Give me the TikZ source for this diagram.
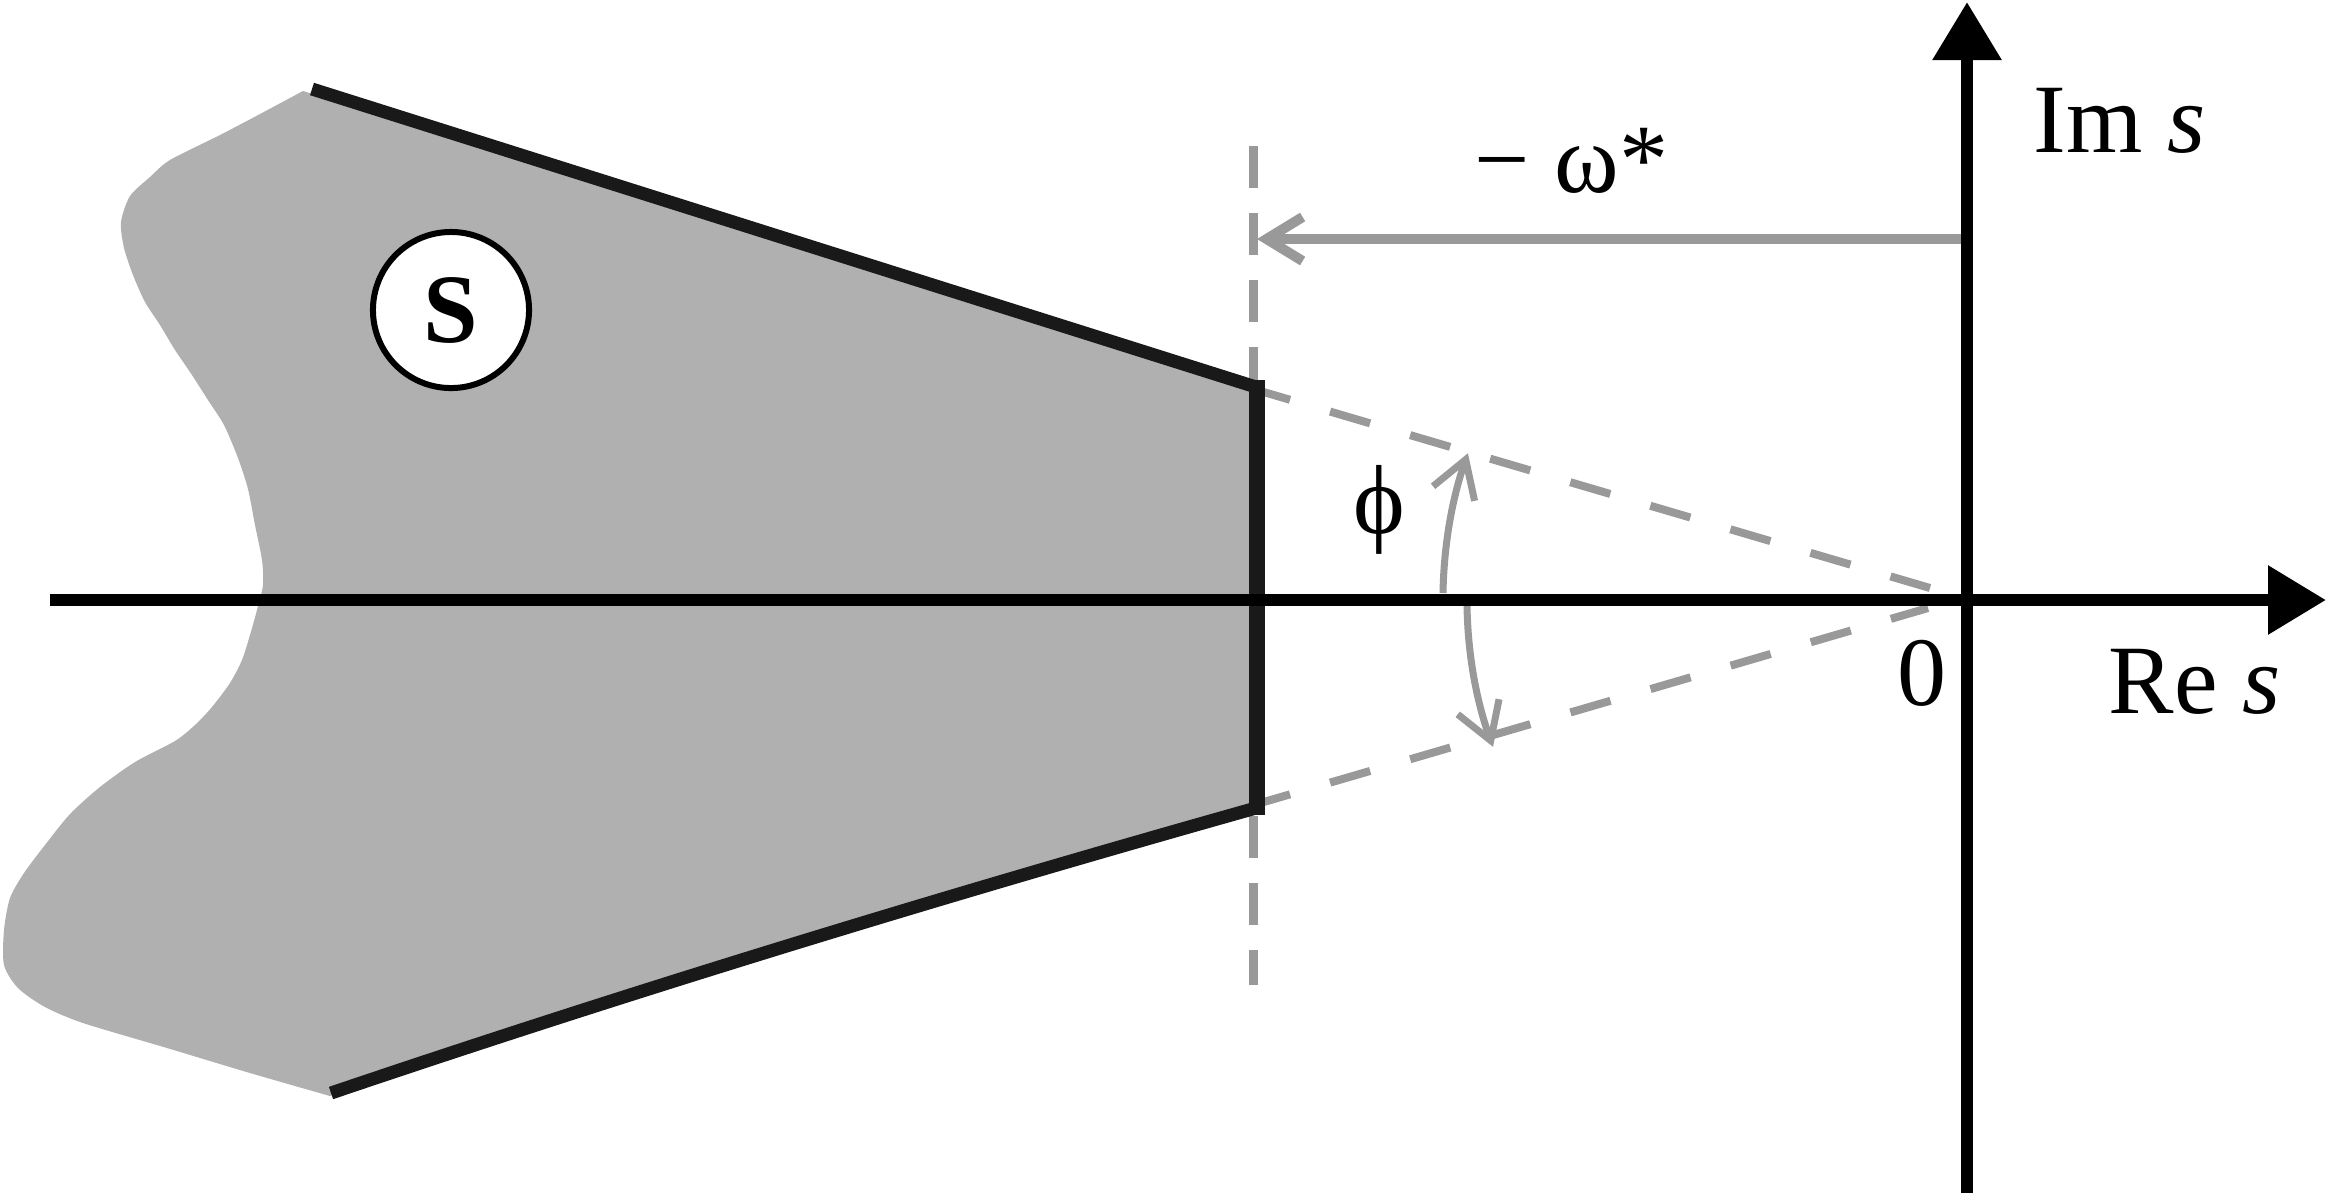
\documentclass[tikz,border=0pt]{standalone}
\usepackage{fontspec}
\setmainfont{Liberation Serif}
\usetikzlibrary{arrows.meta}
\definecolor{regiongray}{gray}{0.69}
\definecolor{edgeblack}{gray}{0.1}
\definecolor{guidegray}{gray}{0.6}
\begin{document}
\begin{tikzpicture}[x=0.01cm,y=-0.01cm,
  axisline/.style={line width=0.125cm, black, -{Triangle[length=0.58cm,width=0.66cm]}},
  edgeline/.style={line width=0.13cm, edgeblack},
  edgebar/.style={line width=0.16cm, edgeblack},
  slantguide/.style={line width=0.08cm, guidegray, dash pattern=on 0.417cm off 0.417cm},
  vertguide/.style={line width=0.09cm, guidegray, dash pattern=on 0.42cm off 0.25cm},
  graybarb/.style={guidegray, -{Straight Barb[length=0.36cm,width=0.44cm]}},
  lbl/.style={anchor=base west, inner sep=0pt, font=\fontsize{27.9}{33}\selectfont}]
\useasboundingbox (0,0) rectangle (2328,1193);

% shaded region
\fill[regiongray] (303,91) -- (1256,389) -- (1256,807)
  .. controls (947,897) and (638,992) .. (330,1096)
  -- plot[smooth, tension=0.45] coordinates {(330,1096) (250,1073) (167,1048) (83,1023) (45,1007) (18,988) (4,965) (4,930) (10,898) (24,873) (45,845) (70,814) (100,787) (135,762) (175,741) (195,725) (212,707) (230,683) (242,660) (250,635) (257,610) (263,585) (262,560) (255,525) (248,489) (238,458) (224,425) (208,400) (190,372) (175,350) (160,325) (145,302) (133,275) (124,248) (121,222) (130,196) (150,177) (170,160) (220,135) (260,114) (303,91)}
  -- cycle;

% named points
\coordinate (tl) at (312,89);
\coordinate (tr) at (1256,387);
\coordinate (bl) at (331,1093);
\coordinate (br) at (1256,808);
\coordinate (bartop) at (1257,380);
\coordinate (barbot) at (1257,815);
\coordinate (vgtop) at (1253,146);
\coordinate (vgbot) at (1253,985);
\coordinate (ugs) at (1250,388);
\coordinate (uge) at (1930,588);
\coordinate (lgs) at (1250,806);
\coordinate (lge) at (1928,608);
\coordinate (oms) at (1963,239);
\coordinate (ome) at (1257,239);
\coordinate (ua) at (1443,593);
\coordinate (la) at (1467,605);
\coordinate (xs) at (50,600);
\coordinate (xe) at (2326,600);
\coordinate (ys) at (1967,1193);
\coordinate (ye) at (1967,2);

% guides
\draw[vertguide] (vgtop) -- (vgbot);
\draw[slantguide] (ugs) -- (uge);
\draw[slantguide] (lgs) -- (lge);
\draw[graybarb, line width=0.1cm] (oms) -- (ome);
\draw[graybarb, line width=0.07cm] (ua) arc[start angle=180.9, end angle=199.3, radius=444];
\draw[graybarb, line width=0.07cm] (la) arc[start angle=179.3, end angle=159.9, radius=428];

% boundary
\draw[edgeline] (tl) -- (tr);
\draw[edgeline] (bl) .. controls (638,989) and (947,895) .. (br);
\draw[edgebar] (bartop) -- (barbot);

% axes
\draw[axisline] (xs) -- (xe);
\draw[axisline] (ys) -- (ye);

% set label
\node[draw=black, fill=white, circle, line width=0.06cm, minimum size=1.56cm, inner sep=0pt, font=\bfseries\fontsize{27.9}{33}\selectfont] (S) at (451,310) {S};

% labels
\node[lbl] (om) at (1474,192) {− ω*};
\node[lbl] (im) at (2033,152) {Im \textit{s}};
\node[lbl] (re) at (2108,713) {Re \textit{s}};
\node[lbl] (zero) at (1897,705) {0};
\node[lbl] (phi) at (1353,533) {ϕ};
\end{tikzpicture}
\end{document}
